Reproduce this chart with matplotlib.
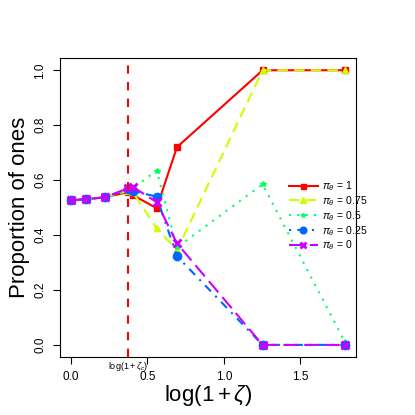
import numpy as np
import matplotlib
matplotlib.use("Agg")
import matplotlib.pyplot as plt

plt.rcParams["font.family"] = ["Liberation Sans", "DejaVu Sans"]
plt.rcParams["mathtext.fontset"] = "custom"
plt.rcParams["mathtext.rm"] = "Liberation Sans"
plt.rcParams["mathtext.it"] = "Liberation Sans:italic"

# значения по оси x: log(1 + zeta)
zeta = [0.0, 0.1, 0.25, 0.45, 0.5, 0.75, 1.0, 2.5, 5.0]
zeta_c = 0.45

# доли единиц для каждого pi_theta
prop_1 = [0.527, 0.530, 0.538, 0.556, 0.545, 0.498, 0.720, 1.0, 1.0]
prop_075 = [0.527, 0.530, 0.538, 0.560, 0.555, 0.425, 0.345, 1.0, 1.0]
prop_05 = [0.527, 0.530, 0.538, 0.560, 0.570, 0.635, 0.355, 0.585, 0.01]
prop_025 = [0.527, 0.530, 0.538, 0.567, 0.560, 0.540, 0.323, 0.0, 0.0]
prop_0 = [0.527, 0.530, 0.538, 0.570, 0.575, 0.520, 0.370, 0.0, 0.0]

labels = [r"$\pi_\theta\,=\,1$", r"$\pi_\theta\,=\,0.75$", r"$\pi_\theta\,=\,0.5$",
          r"$\pi_\theta\,=\,0.25$", r"$\pi_\theta\,=\,0$"]
colors = ["#FF0000", "#CCFF00", "#00FF66", "#0066FF", "#CC00FF"]

x = np.log1p(zeta)

fig = plt.figure(figsize=(4.15, 4.15), dpi=100)
ax = fig.add_axes([0.1446, 0.1398, 0.713, 0.720])

series = [prop_1, prop_075, prop_05, prop_025, prop_0]
styles = [
    dict(linestyle="-", marker="s", markersize=4.5),
    dict(linestyle=(0, (5, 3)), marker="^", markersize=5),
    dict(linestyle=(0, (1, 3)), marker="*", markersize=4),
    dict(linestyle=(0, (1, 3, 4, 3)), marker="o", markersize=6),
    dict(linestyle=(0, (7, 3)), marker="x", markersize=6, markeredgewidth=2),
]
for y, lab, col, st in zip(series, labels, colors, styles):
    ax.plot(x, y, color=col, linewidth=1.5, label=lab, **st)

ax.axvline(np.log1p(zeta_c), color="#FF0000", linestyle=(0, (4, 4)), linewidth=1.5)

ax.set_xlim(-0.0716, 1.863)
ax.set_ylim(-0.044, 1.044)
ax.set_xticks([0.0, 0.5, 1.0, 1.5])
ax.set_xticklabels(["0.0", "0.5", "1.0", "1.5"])
ax.set_yticks([0.0, 0.2, 0.4, 0.6, 0.8, 1.0])
ax.set_yticklabels(["0.0", "0.2", "0.4", "0.6", "0.8", "1.0"], rotation=90, va="center")
ax.tick_params(direction="out", length=5, labelsize=8.5, pad=5)

ax.text(np.log1p(zeta_c), -0.01, r"log$(1+\zeta_c)$", transform=ax.get_xaxis_transform(),
        ha="center", va="top", fontsize=6.5)

ax.set_xlabel(r"log$(1+\zeta)$", fontsize=16, labelpad=0)
ax.set_ylabel("Proportion of ones", fontsize=16, labelpad=3)

ax.legend(loc="upper left", bbox_to_anchor=(0.773, 0.595), frameon=False, fontsize=7.5,
          handlelength=2.8, labelspacing=0.1, handletextpad=0.4, borderpad=0,
          borderaxespad=0, markerscale=0.8)

fig.savefig("out.png", dpi=100)
